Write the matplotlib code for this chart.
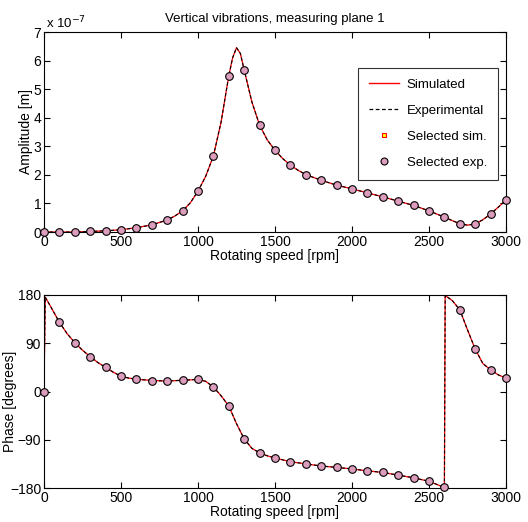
import matplotlib
matplotlib.use("Agg")
import matplotlib.pyplot as plt
from matplotlib.lines import Line2D

plt.rcParams['font.family'] = ['Liberation Sans', 'DejaVu Sans']

# ---- data ----
sel_rpm = [0, 100, 200, 300, 400, 500, 600, 700, 800, 900, 1000, 1100, 1200, 1300, 1400, 1500,
           1600, 1700, 1800, 1900, 2000, 2100, 2200, 2300, 2400, 2500, 2600, 2700, 2800, 2900, 3000]
# amplitude in units of 1e-7 m
sel_amp = [0.0, 0.0, 0.0, 0.02, 0.04, 0.08, 0.15, 0.25, 0.42, 0.74, 1.43, 2.66, 5.47, 5.67, 3.74, 2.86,
           2.34, 2.01, 1.81, 1.64, 1.51, 1.37, 1.23, 1.08, 0.93, 0.74, 0.52, 0.29, 0.28, 0.63, 1.12]
sel_phase = [0, 129, 91, 65, 45, 28.5, 23, 20.5, 19.5, 21, 22.5, 8.5, -27, -88.5, -114.5, -124,
             -131, -135, -139, -141.5, -144.5, -148, -151, -156, -161, -167.5, -179, 152.5, 79, 40.5, 25]

amp_rpm = [0, 100, 200, 300, 400, 500, 600, 700, 800, 850, 900, 950, 1000, 1050, 1100, 1150, 1200,
           1225, 1250, 1275, 1300, 1350, 1400, 1450, 1500, 1550, 1600, 1650, 1700, 1800, 1900, 2000,
           2100, 2200, 2300, 2400, 2500, 2600, 2650, 2700, 2750, 2800, 2850, 2900, 2950, 3000]
amp_sim = [0.0, 0.0, 0.0, 0.02, 0.04, 0.08, 0.15, 0.25, 0.42, 0.56, 0.74, 1.02, 1.43, 1.95, 2.66, 3.85, 5.47,
           6.1, 6.45, 6.25, 5.67, 4.55, 3.74, 3.22, 2.86, 2.57, 2.34, 2.16, 2.01, 1.81, 1.64, 1.51,
           1.37, 1.23, 1.08, 0.93, 0.74, 0.52, 0.40, 0.29, 0.24, 0.28, 0.43, 0.63, 0.87, 1.12]
amp_exp = amp_sim

ph_rpm = [0, 8, 50, 100, 150, 200, 250, 300, 350, 400, 450, 500, 550, 600, 700, 800, 900, 1000,
          1050, 1100, 1150, 1200, 1250, 1300, 1350, 1400, 1450, 1500, 1600, 1700, 1800, 1900, 2000,
          2100, 2200, 2300, 2400, 2500, 2600, 2605, 2650, 2700, 2750, 2800, 2850, 2900, 2950, 3000]
ph_sim = [0, 176, 155, 129, 108, 91, 77, 65, 54, 45, 36, 28.5, 25, 23, 20.5, 19.5, 21, 22.5,
          19, 8.5, -8, -27, -60, -88.5, -106, -114.5, -120, -124, -131, -135, -139, -141.5, -144.5,
          -148, -151, -156, -161, -167.5, -179, 179, 170, 152.5, 115, 79, 52, 40.5, 31, 25]
ph_exp = ph_sim

xticks = [0, 500, 1000, 1500, 2000, 2500, 3000]
amp_ticks = [0, 1, 2, 3, 4, 5, 6, 7]
ph_ticks = [-180, -90, 0, 90, 180]

pink = '#dc9cbc'

fig = plt.figure(figsize=(5.28, 5.22), dpi=100)
ax1 = fig.add_axes([44/528, 1 - 232/522, 462/528, 200/522])
ax2 = fig.add_axes([44/528, 1 - 488/522, 462/528, 193/522])

def style(ax):
    ax.tick_params(direction='in', length=4, width=0.8, top=True, right=True, labelsize=10,
                   pad=2)
    for s in ax.spines.values():
        s.set_linewidth(0.8)
    ax.set_xlim(0, 3000)
    ax.set_xticks(xticks)

for ax, cx, cy_sim, cy_exp, sy in [(ax1, amp_rpm, amp_sim, amp_exp, sel_amp),
                                     (ax2, ph_rpm, ph_sim, ph_exp, sel_phase)]:
    ax.plot(cx, cy_sim, '-', color='#ff0000', lw=0.9, zorder=2)
    ax.plot(cx, cy_exp, '--', color='black', lw=0.8, dashes=(3, 2), zorder=3)
    ax.plot(sel_rpm, sy, 's', ms=3.5, mfc='yellow', mec='red', mew=0.8, zorder=4, clip_on=False)
    ax.plot(sel_rpm, sy, 'o', ms=5.5, mfc=pink, mec='black', mew=0.8, zorder=5, clip_on=False)
    style(ax)

ax1.set_ylim(0, 7)
ax1.set_yticks(amp_ticks)
ax1.set_ylabel('Amplitude [m]', fontsize=10)
ax1.yaxis.set_label_coords(-0.024, 0.5)
ax1.set_xlabel('Rotating speed [rpm]', fontsize=10, labelpad=0)
ax1.set_title('Vertical vibrations, measuring plane 1', fontsize=9.5, pad=7)
ax1.text(0.005, 1.005, 'x 10$^{-7}$', transform=ax1.transAxes, fontsize=9.5, ha='left', va='bottom')

ax2.set_ylim(-180, 180)
ax2.set_yticks(ph_ticks)
ax2.set_ylabel('Phase [degrees]', fontsize=10)
ax2.yaxis.set_label_coords(-0.058, 0.45)
ax2.set_xlabel('Rotating speed [rpm]', fontsize=10, labelpad=0)

handles = [Line2D([], [], color='#ff0000', lw=1.0),
           Line2D([], [], color='black', lw=0.9, ls='--', dashes=(3, 2)),
           Line2D([], [], ls='', marker='s', ms=3.5, mfc='yellow', mec='red', mew=0.8),
           Line2D([], [], ls='', marker='o', ms=5, mfc=pink, mec='black', mew=0.8)]
labels = ['Simulated', 'Experimental', 'Selected sim.', 'Selected exp.']
leg = ax1.legend(handles, labels, loc='upper right', bbox_to_anchor=(0.982, 0.82),
                 fontsize=9.5, frameon=True, fancybox=False, edgecolor='black',
                 labelspacing=1.05, handlelength=2.3, handletextpad=0.6, borderpad=0.8,
                 borderaxespad=0)
leg.get_frame().set_linewidth(0.8)

fig.savefig('out.png', dpi=100)
